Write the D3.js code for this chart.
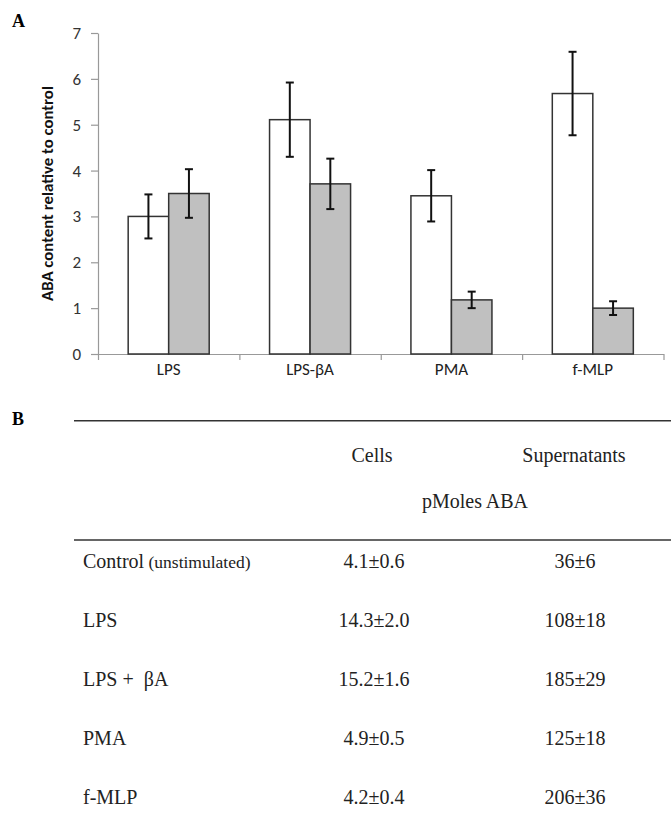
<!DOCTYPE html>
<html>
<head>
<meta charset="utf-8">
<script src="https://cdn.jsdelivr.net/npm/d3@7"></script>
<style>
  body { margin: 0; background: #fff; }
  svg { display: block; }
</style>
</head>
<body>
<script>
// chart A data
const categories = ["LPS", "LPS-\u03b2A", "PMA", "f-MLP"];
const groups = ["cells", "supernatants"];
const cellsValues = [3.0, 5.11, 3.45, 5.68];
const cellsErrors = [0.48, 0.81, 0.56, 0.91];
const supValues = [3.5, 3.71, 1.18, 1.0];
const supErrors = [0.53, 0.55, 0.18, 0.15];
const yTicks = [0, 1, 2, 3, 4, 5, 6, 7];

// table B data
const tableHeaders = ["Cells", "Supernatants"];
const tableUnit = "pMoles ABA";
const rowLabels = ["Control", "LPS", "LPS +  \u03b2A", "PMA", "f-MLP"];
const rowNotes = ["(unstimulated)", "", "", "", ""];
const cellsCol = ["4.1\u00b10.6", "14.3\u00b12.0", "15.2\u00b11.6", "4.9\u00b10.5", "4.2\u00b10.4"];
const supCol = ["36\u00b16", "108\u00b118", "185\u00b129", "125\u00b118", "206\u00b136"];

const width = 671;
const height = 831;

const svg = d3.select("body")
  .append("svg")
  .attr("width", width)
  .attr("height", height);

const sans = "Carlito, Lato, 'Open Sans', sans-serif";
const serif = "'Liberation Serif', 'DejaVu Serif', serif";

// panel letters
svg.append("text").attr("x", 12).attr("y", 27)
  .attr("font-family", serif).attr("font-weight", "bold").attr("font-size", 18)
  .text("A");
svg.append("text").attr("x", 12).attr("y", 425)
  .attr("font-family", serif).attr("font-weight", "bold").attr("font-size", 18)
  .text("B");

// scales
const x = d3.scaleBand()
  .domain(categories)
  .range([98, 663.5]);

const xInner = d3.scaleBand()
  .domain(groups)
  .range([0, x.bandwidth()])
  .paddingOuter(0.745);

const y = d3.scaleLinear()
  .domain([0, 7])
  .range([354, 33]);

const bars = [];
categories.forEach((c, i) => {
  bars.push({ cat: c, group: "cells", value: cellsValues[i], err: cellsErrors[i] });
  bars.push({ cat: c, group: "supernatants", value: supValues[i], err: supErrors[i] });
});

// axes
const yAxis = svg.append("g")
  .attr("transform", "translate(98,0)")
  .call(d3.axisLeft(y).tickValues(yTicks).tickFormat(d3.format("d"))
    .tickSize(7).tickPadding(10).tickSizeOuter(0));
yAxis.select(".domain").attr("stroke", "#999").attr("stroke-width", 1.2);
yAxis.selectAll(".tick line").attr("stroke", "#999").attr("stroke-width", 1.2);
yAxis.selectAll(".tick text")
  .attr("font-family", sans).attr("font-size", 17).attr("fill", "#333");

const xBounds = d3.scaleLinear().domain([0, categories.length]).range(x.range());
const xTickAxis = svg.append("g")
  .attr("transform", "translate(0,354)")
  .call(d3.axisBottom(xBounds).tickValues(d3.range(categories.length + 1)).tickSize(6).tickFormat("").tickSizeOuter(0));
xTickAxis.select(".domain").attr("stroke", "#999").attr("stroke-width", 1.2);
xTickAxis.selectAll(".tick line").attr("stroke", "#999").attr("stroke-width", 1.2);

const xAxis = svg.append("g")
  .attr("transform", "translate(0,354)")
  .call(d3.axisBottom(x).tickSize(0).tickPadding(9));
xAxis.select(".domain").remove();
xAxis.selectAll(".tick text")
  .attr("font-family", sans).attr("font-size", 17).attr("fill", "#222");

// y title
svg.append("text")
  .attr("transform", "translate(47,193.5) rotate(-90)")
  .attr("text-anchor", "middle")
  .attr("dy", "0.35em")
  .attr("font-family", sans)
  .attr("font-weight", "bold")
  .attr("font-size", 16.8)
  .attr("fill", "#111")
  .text("ABA content relative to control");

// bars
svg.selectAll("rect.bar")
  .data(bars)
  .enter()
  .append("rect")
  .attr("class", "bar")
  .attr("x", d => x(d.cat) + xInner(d.group))
  .attr("y", d => y(d.value))
  .attr("width", xInner.bandwidth())
  .attr("height", d => y(0) - y(d.value))
  .attr("fill", d => d.group === "cells" ? "#ffffff" : "#c0c0c0")
  .attr("stroke", "#333")
  .attr("stroke-width", 1.5);

// error bars
const capW = 4;
const eb = svg.selectAll("g.err")
  .data(bars)
  .enter()
  .append("g")
  .attr("class", "err")
  .attr("stroke", "#111")
  .attr("stroke-width", 2);

eb.append("line")
  .attr("x1", d => x(d.cat) + xInner(d.group) + xInner.bandwidth() / 2)
  .attr("x2", d => x(d.cat) + xInner(d.group) + xInner.bandwidth() / 2)
  .attr("y1", d => y(d.value + d.err))
  .attr("y2", d => y(d.value - d.err));
eb.append("line")
  .attr("x1", d => x(d.cat) + xInner(d.group) + xInner.bandwidth() / 2 - capW)
  .attr("x2", d => x(d.cat) + xInner(d.group) + xInner.bandwidth() / 2 + capW)
  .attr("y1", d => y(d.value + d.err))
  .attr("y2", d => y(d.value + d.err));
eb.append("line")
  .attr("x1", d => x(d.cat) + xInner(d.group) + xInner.bandwidth() / 2 - capW)
  .attr("x2", d => x(d.cat) + xInner(d.group) + xInner.bandwidth() / 2 + capW)
  .attr("y1", d => y(d.value - d.err))
  .attr("y2", d => y(d.value - d.err));

// table B
const tbl = svg.append("g")
  .attr("font-family", serif)
  .attr("fill", "#222");

const rules = [420.7, 540];
tbl.selectAll("line.rule")
  .data(rules)
  .enter()
  .append("line")
  .attr("class", "rule")
  .attr("x1", 74).attr("x2", 671)
  .attr("y1", d => d).attr("y2", d => d)
  .attr("stroke", "#333")
  .attr("stroke-width", 1.6);

const colX = [372, 574];
tbl.selectAll("text.hdr")
  .data(tableHeaders)
  .enter()
  .append("text")
  .attr("class", "hdr")
  .attr("x", (d, i) => colX[i])
  .attr("y", 462)
  .attr("text-anchor", "middle")
  .attr("font-size", 20)
  .text(d => d);

tbl.append("text")
  .attr("x", 475).attr("y", 508)
  .attr("text-anchor", "middle")
  .attr("font-size", 20)
  .text(tableUnit);

const rowY = d3.scalePoint()
  .domain(d3.range(rowLabels.length))
  .range([568, 803.5]);

const lbl = tbl.selectAll("text.row")
  .data(rowLabels)
  .enter()
  .append("text")
  .attr("class", "row")
  .attr("x", 83)
  .attr("y", (d, i) => rowY(i))
  .attr("font-size", 20)
  .style("white-space", "pre")
  .attr("xml:space", "preserve");
lbl.append("tspan").text(d => d);
lbl.append("tspan")
  .attr("font-size", 17.5)
  .text((d, i) => rowNotes[i] ? " " + rowNotes[i] : "");

tbl.selectAll("text.cells")
  .data(cellsCol)
  .enter()
  .append("text")
  .attr("x", 374)
  .attr("y", (d, i) => rowY(i))
  .attr("text-anchor", "middle")
  .attr("font-size", 20)
  .text(d => d);

tbl.selectAll("text.sup")
  .data(supCol)
  .enter()
  .append("text")
  .attr("x", 575)
  .attr("y", (d, i) => rowY(i))
  .attr("text-anchor", "middle")
  .attr("font-size", 20)
  .text(d => d);
</script>
</body>
</html>
